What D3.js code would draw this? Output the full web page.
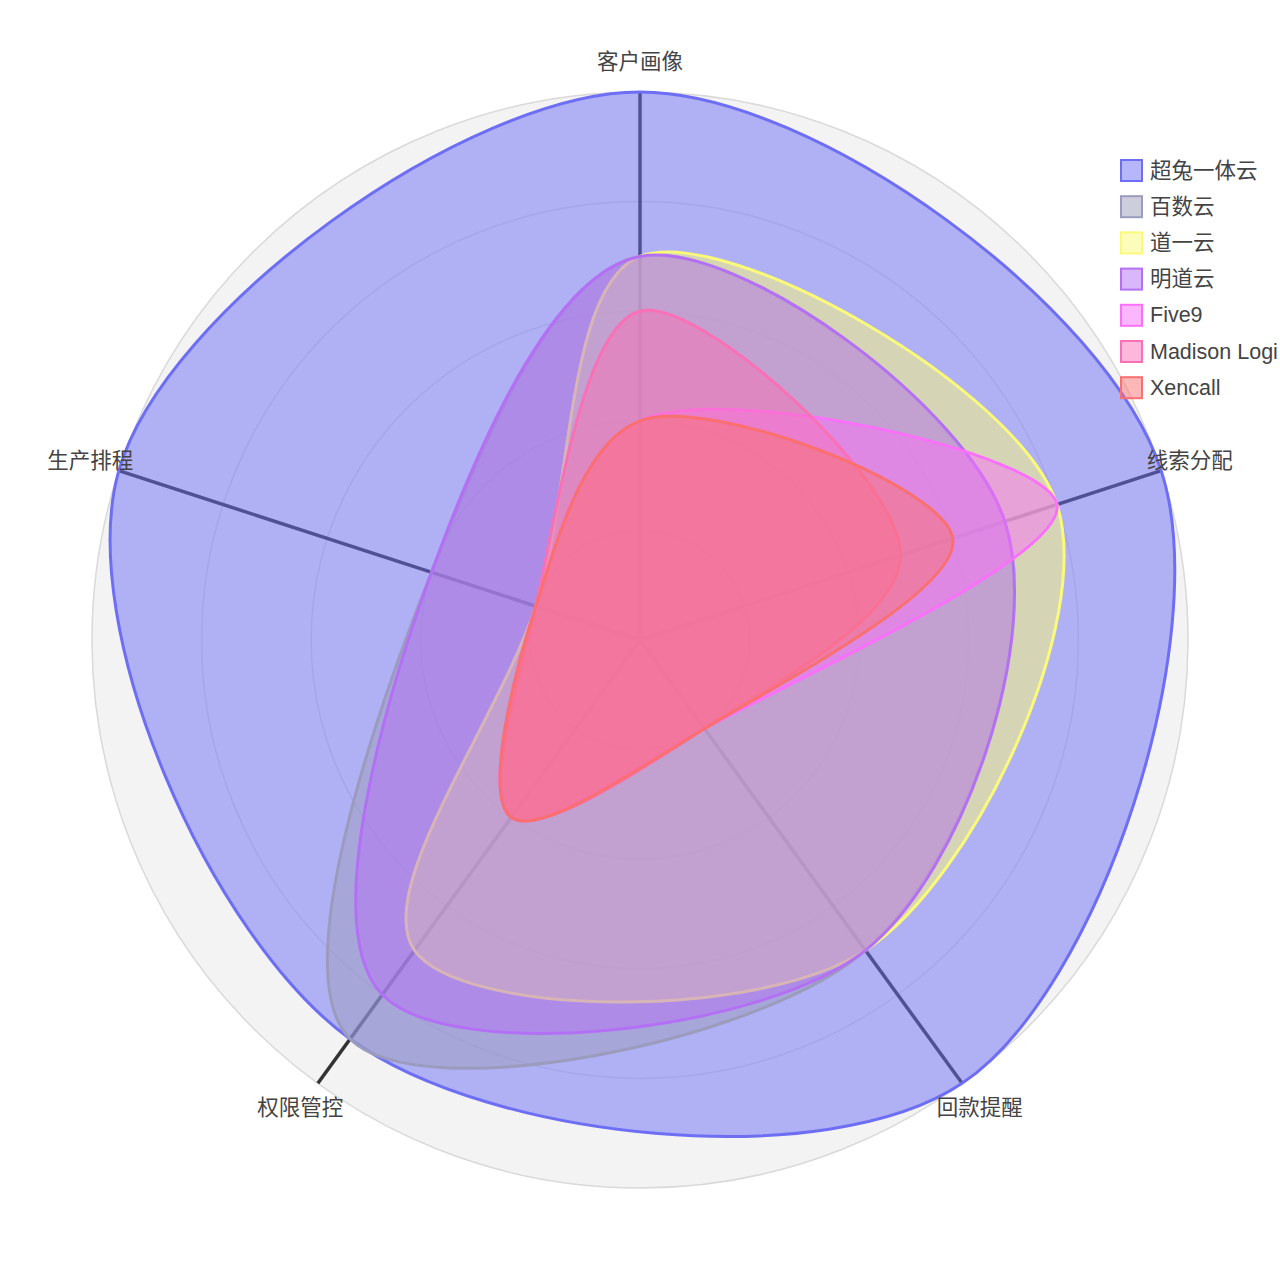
<!DOCTYPE html>
<html>
<head>
<meta charset="utf-8">
<script src="https://cdn.jsdelivr.net/npm/d3@7"></script>
<style>
  html, body { margin: 0; padding: 0; background: #ffffff; }
  svg { display: block; }
  text { font-family: "Liberation Sans", Arial, "Noto Sans CJK SC", sans-serif; }
</style>
</head>
<body>
<svg id="chart" width="1280" height="1280"></svg>
<script>
// ---- data ----
const categories = ["客户画像", "线索分配", "回款提醒", "权限管控", "生产排程"];
const seriesNames = ["超兔一体云", "百数云", "道一云", "明道云", "Five9", "Madison Logi", "Xencall"];
const values_chaotu   = [5, 5, 5, 4.5, 5];
const values_baishu   = [3.5, 3.5, 3.5, 4.5, 2];
const values_daoyi    = [3.5, 4, 3.5, 3.5, 1];
const values_mingdao  = [3.5, 3.5, 3.5, 4, 2];
const values_five9    = [2, 4, 1, 2, 1];
const values_madison  = [3, 2.5, 1, 2, 1];
const values_xencall  = [2, 3, 1, 2, 1];
const seriesValues = [values_chaotu, values_baishu, values_daoyi, values_mingdao, values_five9, values_madison, values_xencall];
const colors = ["rgb(110,110,245)", "rgb(155,155,190)", "rgb(250,250,120)", "rgb(180,112,245)", "rgb(250,112,250)", "rgb(250,112,182)", "rgb(250,112,112)"];
const radialTicks = [1, 2, 3, 4, 5];
const radialMax = 5;

// ---- layout ----
const svg = d3.select("#chart");
const cx = 640, cy = 640, R = 548;
const g = svg.append("g").attr("transform", `translate(${cx},${cy})`);

const r = d3.scaleLinear().domain([0, radialMax]).range([0, R]);
const angle = d3.scalePoint().domain(categories.concat(["__end"])).range([0, 2 * Math.PI]);
// clockwise from top
function pt(cat, v) {
  const a = angle(cat);
  return [r(v) * Math.sin(a), -r(v) * Math.cos(a)];
}

// background
g.append("circle").attr("r", R).attr("fill", "#f3f3f3").attr("stroke", "#d9d9d9").attr("stroke-width", 1.5);
// grid circles
g.selectAll("circle.grid").data(radialTicks.slice(0, -1)).enter().append("circle")
  .attr("class", "grid").attr("r", d => r(d))
  .attr("fill", "none").attr("stroke", "#dcdcdc").attr("stroke-width", 1.5);
// spokes
g.selectAll("line.spoke").data(categories).enter().append("line")
  .attr("class", "spoke")
  .attr("x1", 0).attr("y1", 0)
  .attr("x2", d => pt(d, radialMax)[0]).attr("y2", d => pt(d, radialMax)[1])
  .attr("stroke", "#333").attr("stroke-width", 3.5);

// series
const line = d3.line().curve(d3.curveCatmullRomClosed.alpha(0.5));
seriesValues.forEach((vals, i) => {
  const pts = categories.map((c, j) => pt(c, vals[j]));
  g.append("path")
    .attr("d", line(pts))
    .attr("fill", colors[i]).attr("fill-opacity", 0.5)
    .attr("stroke", colors[i]).attr("stroke-width", 3);
});

// category labels
g.selectAll("text.cat").data(categories).enter().append("text")
  .attr("class", "cat")
  .attr("x", d => pt(d, radialMax * 578 / 548)[0])
  .attr("y", d => pt(d, radialMax * 578 / 548)[1])
  .attr("text-anchor", "middle").attr("dominant-baseline", "central")
  .attr("font-size", 21.5).attr("fill", "#444")
  .text(d => d);

// legend
const legend = svg.append("g").attr("transform", "translate(1120,159)");
seriesNames.forEach((name, i) => {
  const row = legend.append("g").attr("transform", `translate(0,${i * 36.2})`);
  row.append("rect").attr("x", 1).attr("y", 1).attr("width", 21).attr("height", 21)
    .attr("fill", colors[i]).attr("fill-opacity", 0.5)
    .attr("stroke", colors[i]).attr("stroke-width", 2);
  row.append("text").attr("x", 30).attr("y", 11.5)
    .attr("dominant-baseline", "central")
    .attr("font-size", 21.5).attr("fill", "#444").text(name);
});
</script>
</body>
</html>
